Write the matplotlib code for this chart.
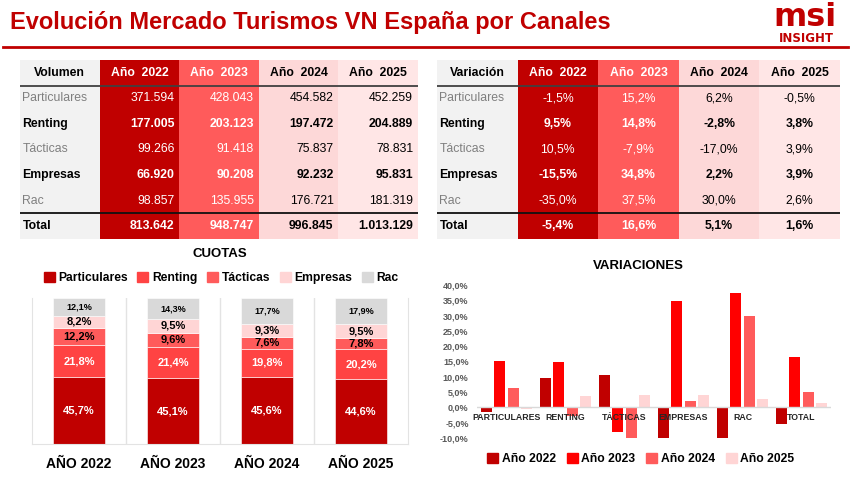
import numpy as np
import matplotlib
matplotlib.use("Agg")
import matplotlib.pyplot as plt
from matplotlib.lines import Line2D
from matplotlib.patches import Rectangle, Patch

# ---- data ----
canales = ["Particulares", "Renting", "Tácticas", "Empresas", "Rac"]
canales_bold = [False, True, False, True, False]
years = ["2022", "2023", "2024", "2025"]

vol_2022 = [371594, 177005, 99266, 66920, 98857]
vol_2023 = [428043, 203123, 91418, 90208, 135955]
vol_2024 = [454582, 197472, 75837, 92232, 176721]
vol_2025 = [452259, 204889, 78831, 95831, 181319]
vol_total = [813642, 948747, 996845, 1013129]

var_2022 = [-1.5, 9.5, 10.5, -15.5, -35.0]
var_2023 = [15.2, 14.8, -7.9, 34.8, 37.5]
var_2024 = [6.2, -2.8, -17.0, 2.2, 30.0]
var_2025 = [-0.5, 3.8, 3.9, 3.9, 2.6]
var_total = [-5.4, 16.6, 5.1, 1.6]

cuota_particulares = [45.7, 45.1, 45.6, 44.6]
cuota_renting = [21.8, 21.4, 19.8, 20.2]
cuota_tacticas = [12.2, 9.6, 7.6, 7.8]
cuota_empresas = [8.2, 9.5, 9.3, 9.5]
cuota_rac = [12.1, 14.3, 17.7, 17.9]

var_categorias = ["PARTICULARES", "RENTING", "TÁCTICAS", "EMPRESAS", "RAC", "TOTAL"]

RED = "#C00000"
W, H = 850, 479

fig = plt.figure(figsize=(W / 100, H / 100), dpi=100)
fig.patch.set_facecolor("white")


def px_axes(x0, y0, x1, y1):
    return fig.add_axes([x0 / W, 1 - y1 / H, (x1 - x0) / W, (y1 - y0) / H])


def fmt_vol(v):
    return f"{v:,}".replace(",", ".")


def fmt_pct(v):
    return f"{v:.1f}%".replace(".", ",")


col_colors = ["#F2F2F2", RED, "#FF5B5B", "#FDD8D8", "#FFE6E6"]
TABLE_FONT = ["Liberation Sans", "DejaVu Sans"]


def draw_table(ax, header, cols, totals, fmt, align_right):
    ax.set_xlim(0, 5)
    ax.set_ylim(7, 0)
    ax.axis("off")
    for c, col in enumerate(col_colors):
        ax.add_patch(Rectangle((c, 0), 1, 7, color=col, lw=0))
    ax.plot([0, 5], [1, 1], color="#404040", lw=1.3)
    ax.plot([0, 5], [6, 6], color="#111111", lw=1.3)
    ax.text(0.5, 0.5, header, ha="center", va="center", fontsize=8.8,
            fontweight="bold", family=TABLE_FONT)
    for j, y in enumerate(years):
        tc = "white" if j < 2 else "black"
        ax.text(j + 1.5, 0.5, f"Año  {y}", ha="center", va="center",
                fontsize=8.8, fontweight="bold", color=tc, family=TABLE_FONT)
    labels = canales + ["Total"]
    bolds = canales_bold + [True]
    for i, lab in enumerate(labels):
        yy = i + 1.5
        bw = "bold" if bolds[i] else "normal"
        lc = "black" if bolds[i] else "#7F7F7F"
        ax.text(0.03, yy, lab, ha="left", va="center", fontsize=8.8,
                fontweight=bw, color=lc, family=TABLE_FONT)
        for j in range(4):
            v = cols[j][i] if i < 5 else totals[j]
            tc = "white" if j < 2 else "black"
            if align_right:
                ax.text(j + 1.94, yy, fmt(v), ha="right", va="center", fontsize=8.8,
                        fontweight=bw, color=tc, family=TABLE_FONT)
            else:
                ax.text(j + 1.5, yy, fmt(v), ha="center", va="center", fontsize=8.8,
                        fontweight=bw, color=tc, family=TABLE_FONT)


# ---- header ----
fig.text(10 / W, 1 - 23 / H, "Evolución Mercado Turismos VN España por Canales",
         fontsize=17, fontweight="bold", color=RED, va="center",
         family=["Liberation Sans", "DejaVu Sans"])
fig.add_artist(Line2D([3 / W, 848 / W], [1 - 47 / H, 1 - 47 / H], color=RED, lw=2))
fig.text(805 / W, 1 - 17 / H, "msi", fontsize=23, fontweight="bold", color=RED,
         ha="center", va="center", family="DejaVu Sans")
fig.text(806 / W, 1 - 39 / H, "INSIGHT", fontsize=8.5, fontweight="bold", color=RED,
         ha="center", va="center", family="DejaVu Sans")

# ---- tables ----
ax_t1 = px_axes(20, 60, 418, 239)
draw_table(ax_t1, "Volumen", [vol_2022, vol_2023, vol_2024, vol_2025], vol_total,
           fmt_vol, True)
ax_t2 = px_axes(437, 60, 840, 239)
draw_table(ax_t2, "Variación", [var_2022, var_2023, var_2024, var_2025], var_total,
           fmt_pct, False)

# ---- cuotas (stacked 100%) ----
CHART_FONT = ["Liberation Sans", "DejaVu Sans"]
ax_c = px_axes(32, 298, 408, 444)
x = np.arange(len(years))
cuota_series = [
    ("Particulares", cuota_particulares, RED, "white", 8),
    ("Renting", cuota_renting, "#FF4343", "white", 8),
    ("Tácticas", cuota_tacticas, "#FF5B5B", "black", 8),
    ("Empresas", cuota_empresas, "#FFD5D5", "black", 8),
    ("Rac", cuota_rac, "#D9D9D9", "black", 6.5),
]
bottom = np.zeros(len(years))
handles = []
for name, vals, color, tcol, fs in cuota_series:
    vals = np.array(vals)
    ax_c.bar(x, vals, 0.56, bottom=bottom, color=color, edgecolor="white", lw=0.4)
    for xi, b, v in zip(x, bottom, vals):
        ax_c.text(xi, b + v / 2, fmt_pct(v), ha="center", va="center", fontsize=fs,
                  fontweight="bold", color=tcol, family=CHART_FONT)
    bottom += vals
    handles.append(Patch(color=color, label=name))
ax_c.set_xlim(-0.5, 3.5)
ax_c.set_ylim(0, 100)
ax_c.set_yticks([])
ax_c.set_xticks(x, [f"AÑO {y}" for y in years])
ax_c.tick_params(axis="x", length=0, pad=9)
for lab in ax_c.get_xticklabels():
    lab.set_fontsize(10)
    lab.set_fontweight("bold")
    lab.set_family(CHART_FONT)
ax_c.spines["top"].set_visible(False)
for s in ["left", "right", "bottom"]:
    ax_c.spines[s].set_color("#E3E3E3")
for v in [0.5, 1.5, 2.5]:
    ax_c.axvline(v, color="#E3E3E3", lw=1)

fig.text(220 / W, 1 - 254 / H, "CUOTAS", ha="center", va="center", fontsize=9.5,
         fontweight="bold", family=CHART_FONT)
fig.legend(handles=handles, loc="center", bbox_to_anchor=(221 / W, 1 - 278 / H),
           ncol=5, frameon=False, handlelength=0.9, handleheight=0.9,
           handletextpad=0.3, columnspacing=0.8,
           prop={"weight": "bold", "size": 8.7, "family": CHART_FONT})

# ---- variaciones (grouped bars) ----
ax_v = px_axes(477, 285, 831, 438)
g = np.arange(len(var_categorias))
var_series = [
    ("Año 2022", var_2022 + [var_total[0]], RED),
    ("Año 2023", var_2023 + [var_total[1]], "#FF0000"),
    ("Año 2024", var_2024 + [var_total[2]], "#FF5B5B"),
    ("Año 2025", var_2025 + [var_total[3]], "#FFD5D5"),
]
handles2 = []
for k, (name, vals, color) in enumerate(var_series):
    ax_v.bar(g + (k - 1.5) * 0.23, vals, 0.185, color=color)
    handles2.append(Patch(color=color, label=name))
ax_v.set_xlim(-0.5, 5.5)
ax_v.set_ylim(-10, 40)
yt = np.arange(-10, 41, 5)
ax_v.set_yticks(yt, [fmt_pct(v) for v in yt])
ax_v.set_xticks([])
ax_v.tick_params(axis="y", length=0, pad=6, labelsize=6.5, labelcolor="#595959")
for lab in ax_v.get_yticklabels():
    lab.set_fontweight("bold")
    lab.set_family(CHART_FONT)
for s in ax_v.spines.values():
    s.set_visible(False)
ax_v.axhline(0, color="#D9D9D9", lw=1)
for i, cat in enumerate(var_categorias):
    ax_v.annotate(cat, (i, 0), xytext=(0, -4), textcoords="offset points",
                  ha="center", va="top", fontsize=6.3, fontweight="bold",
                  color="#262626", family=CHART_FONT)

fig.text(638 / W, 1 - 266 / H, "VARIACIONES", ha="center", va="center",
         fontsize=9.5, fontweight="bold", family=CHART_FONT)
fig.legend(handles=handles2, loc="center", bbox_to_anchor=(641 / W, 1 - 459 / H),
           ncol=4, frameon=False, handlelength=0.9, handleheight=0.9,
           handletextpad=0.3, columnspacing=0.9,
           prop={"weight": "bold", "size": 8.7, "family": CHART_FONT})

fig.savefig("out.png", dpi=100)
